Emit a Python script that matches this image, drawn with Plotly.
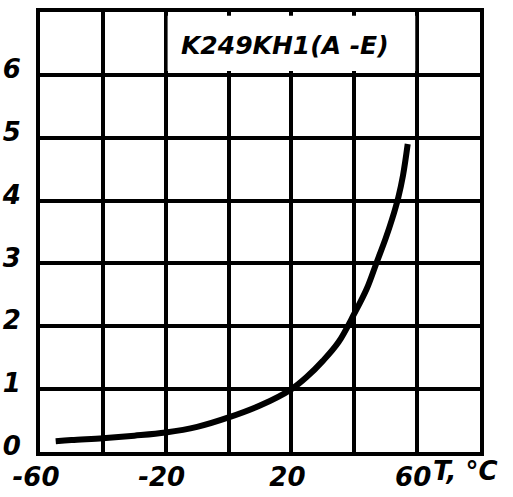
import plotly.graph_objects as go

temp_c = [-55, -50, -40, -30, -20, -10, 0, 10, 20, 25, 30, 35, 40, 44, 47, 50, 52, 54, 55.5, 57]
values = [0.17, 0.19, 0.22, 0.26, 0.31, 0.40, 0.55, 0.74, 1.0, 1.2, 1.45, 1.75, 2.2, 2.6, 3.0, 3.4, 3.7, 4.05, 4.4, 4.9]

x_grid = [-60, -40, -20, 0, 20, 40, 60, 80]
x_ticktext = ["-60", "", "-20", "", "20", "", "60", ""]
y_grid = [0, 1, 2, 3, 4, 5, 6]
y_ticktext = ["0", "1", "2", "3", "4", "5", "6"]
label_text = "K249KH1(A -E)"
unit_text = "T, °C"

FONT = "DejaVu Sans"

fig = go.Figure()
fig.add_trace(go.Scatter(x=temp_c, y=values, mode="lines",
                         line=dict(color="black", width=6, shape="spline", smoothing=1),
                         showlegend=False, hoverinfo="skip"))

# white box masking grid in the top row behind the label
fig.add_shape(type="rect", x0=-19.4, x1=59.4, y0=6.06, y1=6.94,
              fillcolor="white", line=dict(width=0), layer="above")

fig.add_annotation(x=18, y=6.47, text=label_text, showarrow=False,
                   font=dict(family=FONT, size=25, color="black", style="italic", weight="bold"))
fig.add_annotation(x=60, y=0, yref="y", text=unit_text, showarrow=False,
                   xanchor="left", yanchor="top", xshift=14, yshift=-2,
                   font=dict(family=FONT, size=26, color="black", style="italic", weight="bold"))

axis_common = dict(showgrid=True, gridcolor="black", gridwidth=4, zeroline=False,
                   showline=True, linecolor="black", linewidth=4, mirror=True,
                   automargin=False,
                   ticks="", tickfont=dict(family=FONT, size=26, color="black",
                                           style="italic", weight="bold"))
fig.update_xaxes(range=[-60, 80], tickmode="array", tickvals=x_grid, ticktext=x_ticktext,
                 ticklabelstandoff=-1, ticklabelshift=-4, **axis_common)
fig.update_yaxes(range=[0, 7], tickmode="array", tickvals=y_grid, ticktext=y_ticktext,
                 ticklabelstandoff=10, ticklabelshift=-6, **axis_common)

fig.update_layout(width=513, height=497, margin=dict(l=40, r=33, t=12, b=45),
                  paper_bgcolor="white", plot_bgcolor="white")
fig.write_html("out.html", config={"displayModeBar": False},
               post_script="document.body.style.margin='0px';")
